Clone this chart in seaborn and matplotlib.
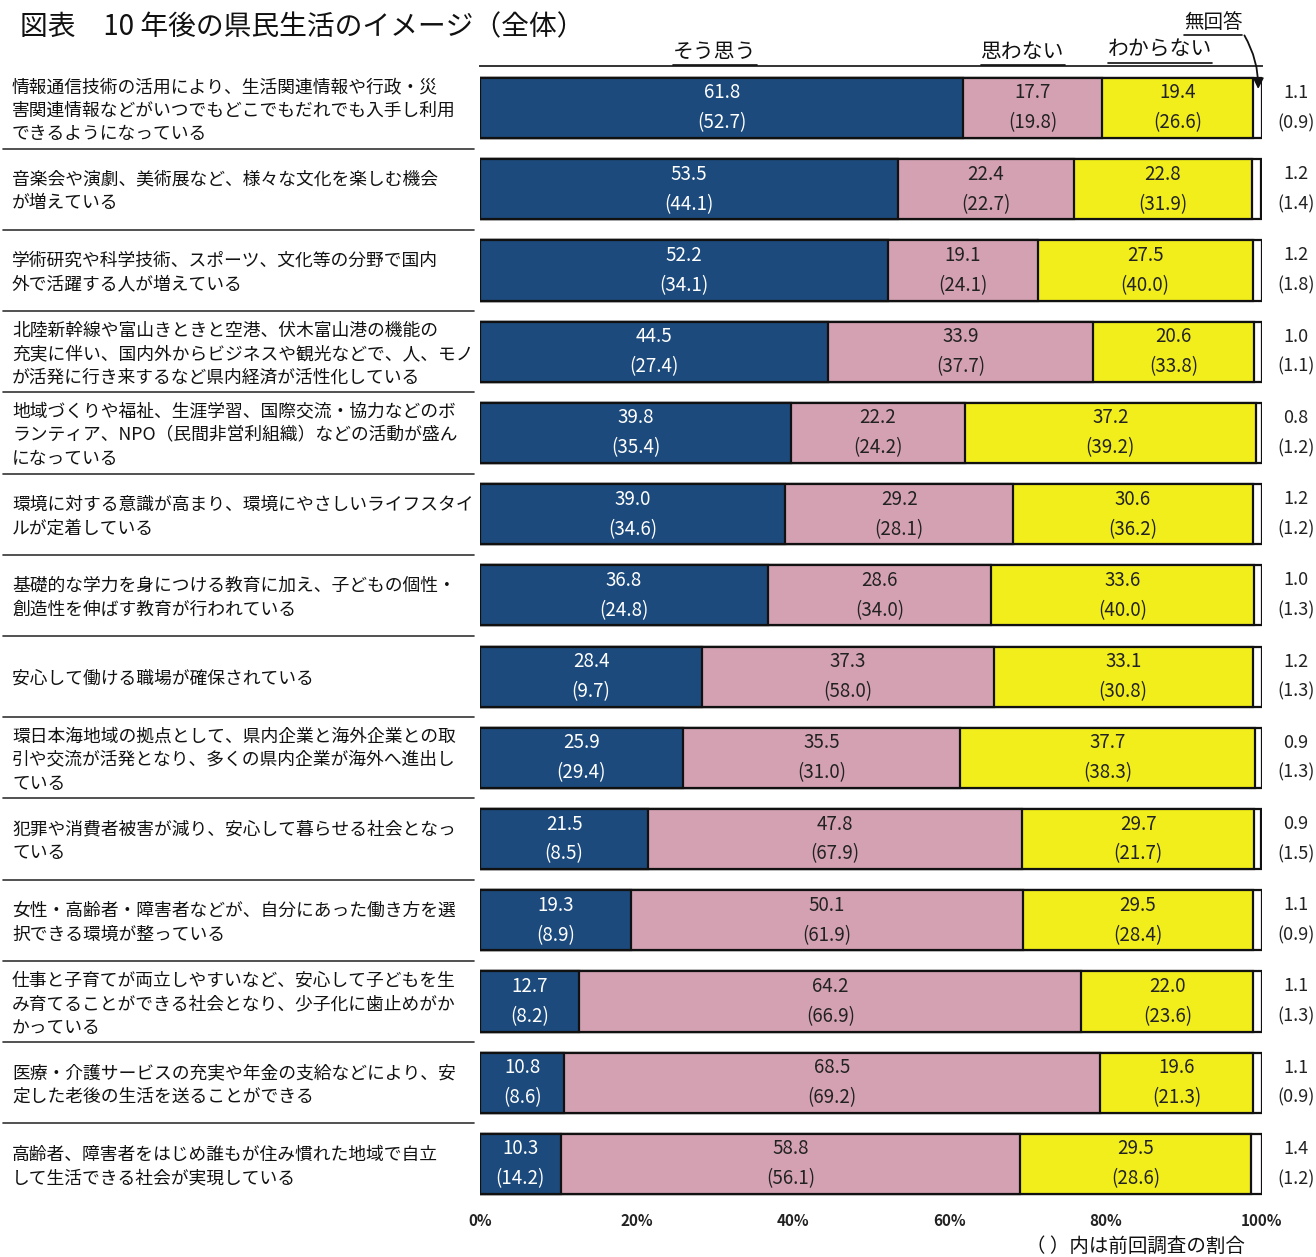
import matplotlib
matplotlib.use("Agg")
import matplotlib.pyplot as plt
import matplotlib.transforms as mtransforms
import seaborn as sns
import pandas as pd
import numpy as np

labels = [
    "情報通信技術の活用により、生活関連情報や行政・災\n害関連情報などがいつでもどこでもだれでも入手し利用\nできるようになっている",
    "音楽会や演劇、美術展など、様々な文化を楽しむ機会\nが増えている",
    "学術研究や科学技術、スポーツ、文化等の分野で国内\n外で活躍する人が増えている",
    "北陸新幹線や富山きときと空港、伏木富山港の機能の\n充実に伴い、国内外からビジネスや観光などで、人、モノ\nが活発に行き来するなど県内経済が活性化している",
    "地域づくりや福祉、生涯学習、国際交流・協力などのボ\nランティア、NPO（民間非営利組織）などの活動が盛ん\nになっている",
    "環境に対する意識が高まり、環境にやさしいライフスタイ\nルが定着している",
    "基礎的な学力を身につける教育に加え、子どもの個性・\n創造性を伸ばす教育が行われている",
    "安心して働ける職場が確保されている",
    "環日本海地域の拠点として、県内企業と海外企業との取\n引や交流が活発となり、多くの県内企業が海外へ進出し\nている",
    "犯罪や消費者被害が減り、安心して暮らせる社会となっ\nている",
    "女性・高齢者・障害者などが、自分にあった働き方を選\n択できる環境が整っている",
    "仕事と子育てが両立しやすいなど、安心して子どもを生\nみ育てることができる社会となり、少子化に歯止めがか\nかっている",
    "医療・介護サービスの充実や年金の支給などにより、安\n定した老後の生活を送ることができる",
    "高齢者、障害者をはじめ誰もが住み慣れた地域で自立\nして生活できる社会が実現している",
]

series_names = ["そう思う", "思わない", "わからない", "無回答"]

sou_omou = [61.8, 53.5, 52.2, 44.5, 39.8, 39.0, 36.8, 28.4, 25.9, 21.5, 19.3, 12.7, 10.8, 10.3]
omowanai = [17.7, 22.4, 19.1, 33.9, 22.2, 29.2, 28.6, 37.3, 35.5, 47.8, 50.1, 64.2, 68.5, 58.8]
wakaranai = [19.4, 22.8, 27.5, 20.6, 37.2, 30.6, 33.6, 33.1, 37.7, 29.7, 29.5, 22.0, 19.6, 29.5]
mukaitou = [1.1, 1.2, 1.2, 1.0, 0.8, 1.2, 1.0, 1.2, 0.9, 0.9, 1.1, 1.1, 1.1, 1.4]

prev_sou_omou = [52.7, 44.1, 34.1, 27.4, 35.4, 34.6, 24.8, 9.7, 29.4, 8.5, 8.9, 8.2, 8.6, 14.2]
prev_omowanai = [19.8, 22.7, 24.1, 37.7, 24.2, 28.1, 34.0, 58.0, 31.0, 67.9, 61.9, 66.9, 69.2, 56.1]
prev_wakaranai = [26.6, 31.9, 40.0, 33.8, 39.2, 36.2, 40.0, 30.8, 38.3, 21.7, 28.4, 23.6, 21.3, 28.6]
prev_mukaitou = [0.9, 1.4, 1.8, 1.1, 1.2, 1.2, 1.3, 1.3, 1.3, 1.5, 0.9, 1.3, 0.9, 1.2]

xticks = [0, 20, 40, 60, 80, 100]
xtick_labels = ["0%", "20%", "40%", "60%", "80%", "100%"]

colors = ["#1c4a7c", "#d4a1b3", "#f2ee1c", "#ffffff"]

sns.set_theme(style="white")
plt.rcParams["font.family"] = ["Noto Sans CJK JP", "DejaVu Sans"]

df = pd.DataFrame({
    "item": [str(i) for i in range(len(labels))],
    "s1": sou_omou, "s2": omowanai, "s3": wakaranai, "s4": mukaitou,
})
df["c1"] = df["s1"]
df["c2"] = df["c1"] + df["s2"]
df["c3"] = df["c2"] + df["s3"]
df["c4"] = df["c3"] + df["s4"]

W, H = 1316, 1257
fig = plt.figure(figsize=(W / 100, H / 100), dpi=100)
ax = fig.add_axes([480 / W, 1 - 1205 / H, 782 / W, (1205 - 66) / H])

order = list(df["item"])
for col, color in zip(["c4", "c3", "c2", "c1"], colors[::-1]):
    sns.barplot(data=df, x=col, y="item", order=order, orient="h", color=color,
                saturation=1, width=0.74, edgecolor="#111111", linewidth=1.6, ax=ax)

ax.set_xlim(0, 100)
ax.set_ylim(13.505, -0.517)
ax.set_xlabel("")
ax.set_ylabel("")
ax.set_yticks([])
ax.set_xticks(xticks)
ax.set_xticklabels(xtick_labels, fontsize=11, fontweight="bold", color="#222222")
ax.tick_params(axis="x", length=0, pad=6)
for s in ["left", "right", "bottom"]:
    ax.spines[s].set_visible(False)
ax.spines["top"].set_visible(True)
ax.spines["top"].set_color("#333333")
ax.spines["top"].set_linewidth(1.4)
ax.grid(False)

dy = 0.185
vals = [sou_omou, omowanai, wakaranai]
prevs = [prev_sou_omou, prev_omowanai, prev_wakaranai]
txtcolors = ["white", "#222222", "#222222"]
for i in range(len(labels)):
    left = 0.0
    for k in range(3):
        w = vals[k][i]
        cx = left + w / 2
        ax.text(cx, i - dy, f"{vals[k][i]:.1f}", ha="center", va="center",
                fontsize=13.5, color=txtcolors[k])
        ax.text(cx, i + dy, f"({prevs[k][i]:.1f})", ha="center", va="center",
                fontsize=13.5, color=txtcolors[k])
        left += w
    ax.text(104.3, i - dy, f"{mukaitou[i]:.1f}", ha="center", va="center",
            fontsize=13, color="#222222", clip_on=False)
    ax.text(104.3, i + dy, f"({prev_mukaitou[i]:.1f})", ha="center", va="center",
            fontsize=13, color="#222222", clip_on=False)

# category labels on the left
trans = mtransforms.blended_transform_factory(fig.transFigure, ax.transData)
for i, lab in enumerate(labels):
    ax.text(12 / W, i + 0.03, lab, transform=trans, ha="left", va="center",
            fontsize=12.8, color="#111111", linespacing=1.4, clip_on=False)
for i in range(len(labels) - 1):
    ax.plot([3 / W, 474 / W], [i + 0.5, i + 0.5], transform=trans, color="#333333",
            lw=1.2, clip_on=False)

# title
fig.text(20 / W, 1 - 27 / H, "図表　10 年後の県民生活のイメージ（全体）", ha="left",
         va="center", fontsize=20, color="#111111")

# series headers (underlined)
header_pos = [(715, 52), (1023, 52), (1160, 50)]
for name, (hx, hy) in zip(series_names[:3], header_pos):
    t = fig.text(hx / W, 1 - hy / H, name, ha="center", va="center", fontsize=15,
                 color="#111111")
fig.canvas.draw()
renderer = fig.canvas.get_renderer()
for t in fig.texts[1:]:
    bb = t.get_window_extent(renderer)
    fig.add_artist(plt.Line2D([bb.x0 / W, bb.x1 / W], [(bb.y0 - 2) / H, (bb.y0 - 2) / H],
                              transform=fig.transFigure, color="#111111", lw=1.2))
tm = fig.text(1213 / W, 1 - 22 / H, series_names[3], ha="center", va="center",
              fontsize=14, color="#111111")
fig.canvas.draw()
bb = tm.get_window_extent(renderer)
fig.add_artist(plt.Line2D([bb.x0 / W, bb.x1 / W], [(bb.y0 - 2) / H, (bb.y0 - 2) / H],
                          transform=fig.transFigure, color="#111111", lw=1.2))
ax.annotate("", xy=(99.5, -0.2), xycoords="data",
            xytext=(1243 / W, 1 - 33 / H), textcoords="figure fraction",
            arrowprops=dict(arrowstyle="-|>", color="#111111", lw=1.3,
                            connectionstyle="arc3,rad=-0.15", mutation_scale=16),
            annotation_clip=False)

fig.text(1135 / W, 1 - 1246 / H, "（ ）内は前回調査の割合", ha="center", va="center",
         fontsize=14, color="#111111")

fig.savefig("out.png", dpi=100, facecolor="white")
